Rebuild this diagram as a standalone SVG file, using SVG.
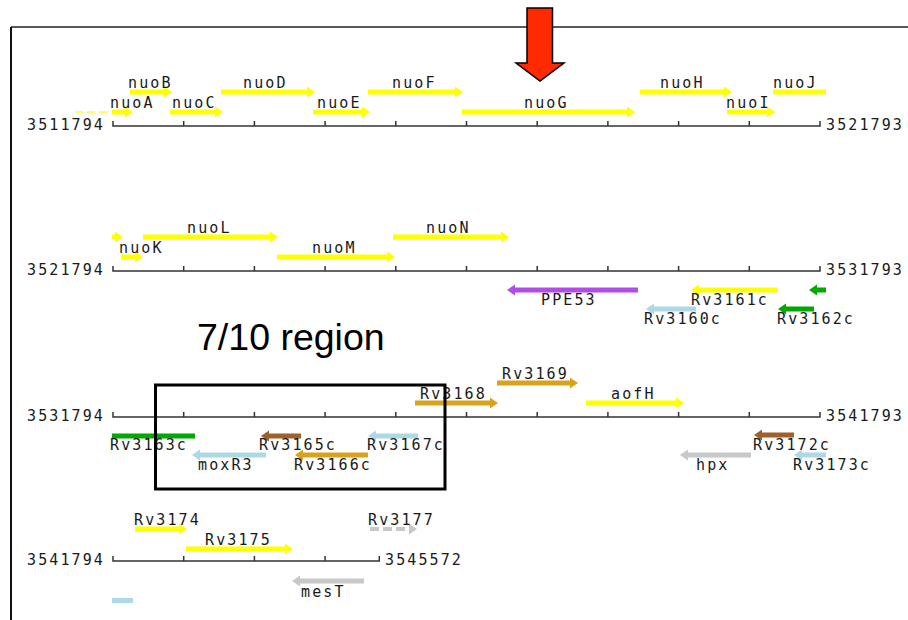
<svg xmlns="http://www.w3.org/2000/svg" width="908" height="620" viewBox="0 0 908 620">
<style>
.t{font-family:"DejaVu Sans Mono","Liberation Mono",monospace;font-size:15px;letter-spacing:2.1px;fill:#1a1a1a}
.big{font-family:"Liberation Sans",Arial,sans-serif;font-size:37.5px;fill:#000}
.axis{fill:none;stroke:#333;stroke-width:1.5}
.y{fill:#ffff00}.g{fill:#00a800}.p{fill:#b04ce8}.lb{fill:#add8e6}.br{fill:#a0602a}.gd{fill:#d9a21b}.gr{fill:#c8c8c8}
</style>
<rect width="908" height="620" fill="#fff"/>
<g id="frame">
<path d="M11 27H908" stroke="#222" stroke-width="1.5" fill="none"/>
<path d="M11 27V620" stroke="#111" stroke-width="2" fill="none"/>
</g>
<g id="pointer">
<path d="M527 8H552.5V63H564L540 81L516 63H527Z" fill="#ff2a00" stroke="#000" stroke-width="1.5" stroke-linejoin="miter"/>
</g>
<g id="axes">
<path class="axis" d="M113 121V126H820V121M183.7 121V126M254.4 121V126M325.1 121V126M395.8 121V126M466.5 121V126M537.2 121V126M607.9 121V126M678.6 121V126M749.3 121V126"/>
<path class="axis" d="M113 266V271H820V266M183.7 266V271M254.4 266V271M325.1 266V271M395.8 266V271M466.5 266V271M537.2 266V271M607.9 266V271M678.6 266V271M749.3 266V271"/>
<path class="axis" d="M113 412V417H820V412M183.7 412V417M254.4 412V417M325.1 412V417M395.8 412V417M466.5 412V417M537.2 412V417M607.9 412V417M678.6 412V417M749.3 412V417"/>
<path class="axis" d="M113 556V561H379.3V556M183.7 556V561M254.4 556V561M325.1 556V561"/>
<text class="t" x="27" y="130">3511794</text>
<text class="t" x="826" y="130">3521793</text>
<text class="t" x="27" y="275">3521794</text>
<text class="t" x="826" y="275">3531793</text>
<text class="t" x="27" y="421">3531794</text>
<text class="t" x="826" y="421">3541793</text>
<text class="t" x="27" y="565">3541794</text>
<text class="t" x="385" y="565">3545572</text>
</g>
<g id="nuoA"><path d="M75 112H110" stroke="#ffff60" stroke-width="2" stroke-dasharray="8 4" fill="none"/><path class="y" d="M112 109.5H125V106.5L133 112L125 117.5V114.5H112Z"/><text class="t" x="110" y="108">nuoA</text></g>
<g id="nuoB"><path class="y" d="M130 89.5H164V86.5L172 92L164 97.5V94.5H130Z"/><text class="t" x="128" y="88">nuoB</text></g>
<g id="nuoC"><path class="y" d="M170 109.5H215V106.5L223 112L215 117.5V114.5H170Z"/><text class="t" x="172" y="108">nuoC</text></g>
<g id="nuoD"><path class="y" d="M221 89.5H307V86.5L315 92L307 97.5V94.5H221Z"/><text class="t" x="243" y="88">nuoD</text></g>
<g id="nuoE"><path class="y" d="M313 109.5H362V106.5L370 112L362 117.5V114.5H313Z"/><text class="t" x="317" y="108">nuoE</text></g>
<g id="nuoF"><path class="y" d="M368 89.5H455V86.5L463 92L455 97.5V94.5H368Z"/><text class="t" x="392" y="88">nuoF</text></g>
<g id="nuoG"><path class="y" d="M462 109.5H627V106.5L635 112L627 117.5V114.5H462Z"/><text class="t" x="524" y="108">nuoG</text></g>
<g id="nuoH"><path class="y" d="M640 89.5H724V86.5L732 92L724 97.5V94.5H640Z"/><text class="t" x="660" y="88">nuoH</text></g>
<g id="nuoI"><path class="y" d="M727 109.5H767V106.5L775 112L767 117.5V114.5H727Z"/><text class="t" x="726" y="108">nuoI</text></g>
<g id="nuoJ"><rect class="y" x="773" y="89.5" width="53" height="5"/><text class="t" x="773" y="88">nuoJ</text></g>
<g id="gene-r2-1"><path class="y" d="M112 234.5H115V231.5L123 237L115 242.5V239.5H112Z"/></g>
<g id="nuoK"><path class="y" d="M121 254.5H135V251.5L143 257L135 262.5V259.5H121Z"/><text class="t" x="119" y="253">nuoK</text></g>
<g id="nuoL"><path class="y" d="M143 234.5H270V231.5L278 237L270 242.5V239.5H143Z"/><text class="t" x="187" y="233">nuoL</text></g>
<g id="nuoM"><path class="y" d="M277 254.5H387V251.5L395 257L387 262.5V259.5H277Z"/><text class="t" x="312" y="253">nuoM</text></g>
<g id="nuoN"><path class="y" d="M393 234.5H501V231.5L509 237L501 242.5V239.5H393Z"/><text class="t" x="426" y="233">nuoN</text></g>
<g id="PPE53"><path class="p" d="M638 287.5H515V284.5L507 290L515 295.5V292.5H638Z"/><text class="t" x="541" y="304.5">PPE53</text></g>
<g id="Rv3161c"><path class="y" d="M778 287.5H699V284.5L691 290L699 295.5V292.5H778Z"/><text class="t" x="691" y="304.5">Rv3161c</text></g>
<g id="gene-r2-2"><path class="g" d="M826 287.5H817V284.5L809 290L817 295.5V292.5H826Z"/></g>
<g id="Rv3160c"><path class="lb" d="M696 306.5H654V303.5L646 309L654 314.5V311.5H696Z"/><text class="t" x="644" y="323.5">Rv3160c</text></g>
<g id="Rv3162c"><path class="g" d="M814 306.5H786V303.5L778 309L786 314.5V311.5H814Z"/><text class="t" x="777" y="323.5">Rv3162c</text></g>
<g id="region-label"><text class="big" x="197" y="350">7/10 region</text></g>
<g id="Rv3168"><path class="gd" d="M415 400.5H490V397.5L498 403L490 408.5V405.5H415Z"/><text class="t" x="420" y="399">Rv3168</text></g>
<g id="Rv3169"><path class="gd" d="M497 380.5H570V377.5L578 383L570 388.5V385.5H497Z"/><text class="t" x="502" y="379">Rv3169</text></g>
<g id="aofH"><path class="y" d="M586 400.5H676V397.5L684 403L676 408.5V405.5H586Z"/><text class="t" x="611" y="399">aofH</text></g>
<g id="Rv3163c"><rect class="g" x="112" y="433.5" width="83" height="5"/><text class="t" x="110" y="450">Rv3163c</text></g>
<g id="Rv3165c"><path class="br" d="M301 433.5H269V430.5L261 436L269 441.5V438.5H301Z"/><text class="t" x="259" y="450">Rv3165c</text></g>
<g id="Rv3167c"><path class="lb" d="M418 433.5H376V430.5L368 436L376 441.5V438.5H418Z"/><text class="t" x="367" y="450">Rv3167c</text></g>
<g id="moxR3"><path class="lb" d="M266 452.5H200V449.5L192 455L200 460.5V457.5H266Z"/><text class="t" x="198" y="470">moxR3</text></g>
<g id="Rv3166c"><path class="gd" d="M368 452.5H303V449.5L295 455L303 460.5V457.5H368Z"/><text class="t" x="294" y="470">Rv3166c</text></g>
<g id="Rv3172c"><path class="br" d="M794 432.5H762V429.5L754 435L762 440.5V437.5H794Z"/><text class="t" x="753" y="450">Rv3172c</text></g>
<g id="hpx"><path class="gr" d="M751 452.5H688V449.5L680 455L688 460.5V457.5H751Z"/><text class="t" x="696" y="470">hpx</text></g>
<g id="Rv3173c"><path class="lb" d="M826 452.5H802V449.5L794 455L802 460.5V457.5H826Z"/><text class="t" x="793" y="470">Rv3173c</text></g>
<g id="Rv3174"><path class="y" d="M135 526.5H179V523.5L187 529L179 534.5V531.5H135Z"/><text class="t" x="134" y="525">Rv3174</text></g>
<g id="Rv3175"><path class="y" d="M186 546.5H285V543.5L293 549L285 554.5V551.5H186Z"/><text class="t" x="205" y="545">Rv3175</text></g>
<g id="Rv3177"><path d="M370 529H409" stroke="#c8c8c8" stroke-width="4" stroke-dasharray="9 4" fill="none"/><path class="gr" d="M409 523.5L417 529L409 534.5Z"/><text class="t" x="368" y="525">Rv3177</text></g>
<g id="mesT"><path class="gr" d="M364 578.5H300V575.5L292 581L300 586.5V583.5H364Z"/><text class="t" x="301" y="596.5">mesT</text></g>
<g id="gene-r4-bar"><rect class="lb" x="112" y="598" width="21" height="5"/></g>
<g id="selection-box"><rect x="155.5" y="385" width="289.5" height="104" fill="none" stroke="#000" stroke-width="3"/></g>
</svg>
